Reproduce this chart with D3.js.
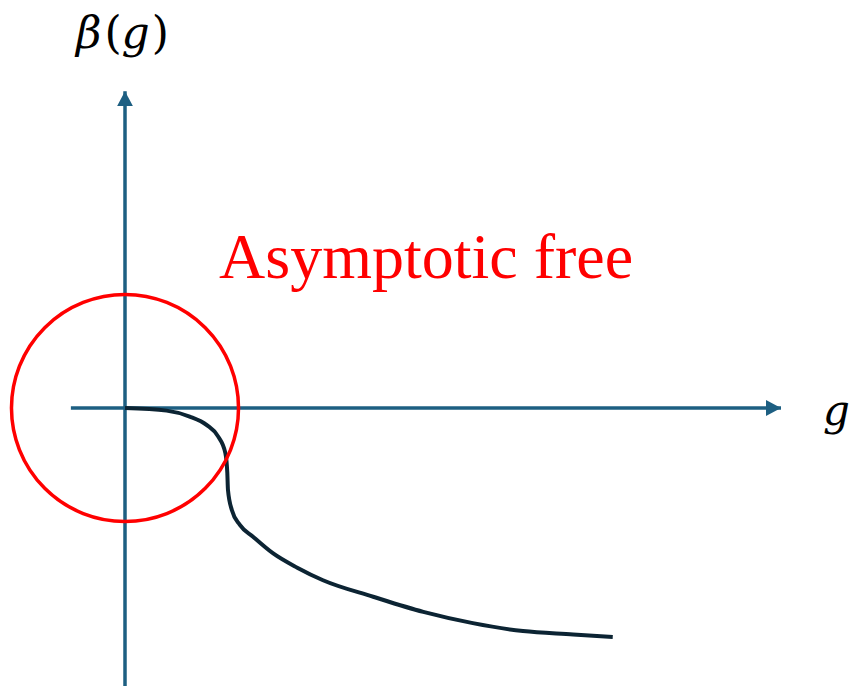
<!DOCTYPE html>
<html>
<head>
<meta charset="utf-8">
<script src="https://cdn.jsdelivr.net/npm/d3@7"></script>
<style>
  body { margin: 0; background: #fff; }
  .axis-line { stroke: #1d5f82; stroke-width: 3.5; }
  .beta { fill: none; stroke: #0c2433; stroke-width: 4; }
  .ring { fill: none; stroke: #ff0000; stroke-width: 3.5; }
</style>
</head>
<body>
<svg id="chart"></svg>
<script>
// data (arbitrary units, g on x, beta(g) on y)
const gValues    = [0, 0.63, 0.98, 1.24, 1.41, 1.52, 1.55, 1.56, 1.62, 1.74, 1.94, 2.24, 2.61, 3.00, 3.76, 4.52, 5.27, 6.03, 6.79, 7.39];
const betaValues = [0, -0.04, -0.13, -0.26, -0.43, -0.68, -0.98, -1.24, -1.55, -1.77, -1.95, -2.20, -2.42, -2.61, -2.86, -3.09, -3.26, -3.38, -3.43, -3.47];
const xExtent = [-0.82, 10];     // x axis from .. to arrow tip
const yExtent = [-4.3, 4.86];    // y axis from .. to arrow tip
const ringRadius = 1.72;         // circle around the origin
const xLabel = 'g';
const note = 'Asymptotic free';

const width = 851;
const height = 686;

const data = gValues.map((g, i) => ({ g: g, beta: betaValues[i] }));

//scales
const xScale = d3.scaleLinear().domain([0, 10]).range([125, 785]);
const yScale = d3.scaleLinear().domain([0, 1]).range([408, 342]);

const svg = d3.select('#chart')
    .attr('width', width)
    .attr('height', height);

//arrow head
svg.append('defs').append('marker')
    .attr('id', 'arrow')
    .attr('markerUnits', 'userSpaceOnUse')
    .attr('viewBox', '0 -8 15 16')
    .attr('refX', 15)
    .attr('refY', 0)
    .attr('markerWidth', 15)
    .attr('markerHeight', 16)
    .attr('orient', 'auto')
  .append('path')
    .attr('d', 'M0,-8L15,0L0,8Z')
    .attr('fill', '#1d5f82');

//x axis
svg.append('line')
    .attr('class', 'axis-line')
    .attr('x1', xScale(xExtent[0]))
    .attr('x2', xScale(xExtent[1]) - 4)
    .attr('y1', yScale(0))
    .attr('y2', yScale(0))
    .attr('marker-end', 'url(#arrow)');

//y axis
svg.append('line')
    .attr('class', 'axis-line')
    .attr('x1', xScale(0))
    .attr('x2', xScale(0))
    .attr('y1', yScale(yExtent[0]))
    .attr('y2', yScale(yExtent[1]) + 4)
    .attr('marker-end', 'url(#arrow)');

//beta function curve
const line = d3.line()
    .x(d => xScale(d.g))
    .y(d => yScale(d.beta))
    .curve(d3.curveMonotoneX);

svg.append('path')
    .datum(data)
    .attr('class', 'beta')
    .attr('d', line);

//circle round the origin
svg.append('circle')
    .attr('class', 'ring')
    .attr('cx', xScale(0))
    .attr('cy', yScale(0))
    .attr('r', xScale(ringRadius) - xScale(0));

//labels
const yl = svg.append('text')
    .attr('x', 76)
    .attr('y', 48)
    .attr('font-family', 'DejaVu Serif')
    .attr('font-size', 44)
    .attr('fill', '#000');
yl.append('tspan').attr('font-style', 'italic').text('β');
yl.append('tspan').attr('dx', 3).text('(');
yl.append('tspan').attr('font-style', 'italic').text('g');
yl.append('tspan').attr('dx', 2).text(')');

svg.append('text')
    .attr('x', 823)
    .attr('y', 425)
    .attr('font-family', 'DejaVu Serif')
    .attr('font-style', 'italic')
    .attr('font-size', 42)
    .attr('fill', '#000')
    .text(xLabel);

svg.append('text')
    .attr('x', 219)
    .attr('y', 278)
    .attr('font-family', 'Liberation Serif, Times New Roman, serif')
    .attr('font-size', 64)
    .attr('fill', '#ff0000')
    .text(note);
</script>
</body>
</html>
